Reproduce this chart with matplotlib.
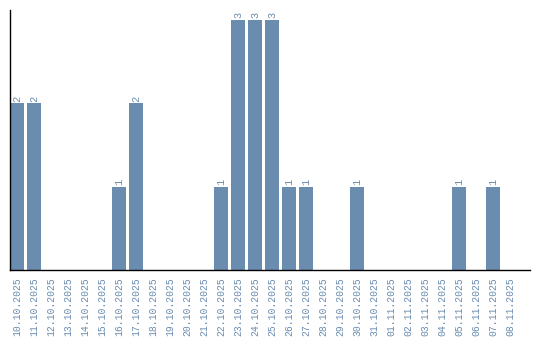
import matplotlib
matplotlib.use("Agg")
import matplotlib.pyplot as plt

# fechas y cantidades
dates = ["10.10.2025", "11.10.2025", "12.10.2025", "13.10.2025", "14.10.2025",
         "15.10.2025", "16.10.2025", "17.10.2025", "18.10.2025", "19.10.2025",
         "20.10.2025", "21.10.2025", "22.10.2025", "23.10.2025", "24.10.2025",
         "25.10.2025", "26.10.2025", "27.10.2025", "28.10.2025", "29.10.2025",
         "30.10.2025", "31.10.2025", "01.11.2025", "02.11.2025", "03.11.2025",
         "04.11.2025", "05.11.2025", "06.11.2025", "07.11.2025", "08.11.2025"]
counts = [2, 2, 0, 0, 0, 0, 1, 2, 0, 0,
          0, 0, 1, 3, 3, 3, 1, 1, 0, 0,
          1, 0, 0, 0, 0, 0, 1, 0, 1, 0]

bar_color = "#6a8caf"
text_color = "#6a8caf"
mono = "Liberation Mono"

fig = plt.figure(figsize=(5.4, 3.4), dpi=100)
ax = fig.add_axes([10 / 540, 70 / 340, 520 / 540, 260 / 340])

x = list(range(len(dates)))
ax.bar(x, counts, width=0.82, color=bar_color)

for xi, c in zip(x, counts):
    if c > 0:
        ax.text(xi, c + 0.02, str(c), rotation=90, ha="center", va="bottom",
                family=mono, fontsize=7.5, color=text_color)

ax.set_xlim(-0.41, 30.18)
ax.set_ylim(0, 3.12)
ax.set_xticks(x)
ax.set_xticklabels(dates, rotation=90, family=mono, fontsize=7, color=text_color)
ax.tick_params(axis="x", length=0, pad=5)
ax.set_yticks([])

for side in ["top", "right"]:
    ax.spines[side].set_visible(False)
ax.spines["left"].set_linewidth(1)
ax.spines["bottom"].set_linewidth(1)

fig.savefig("out.png", dpi=100)
